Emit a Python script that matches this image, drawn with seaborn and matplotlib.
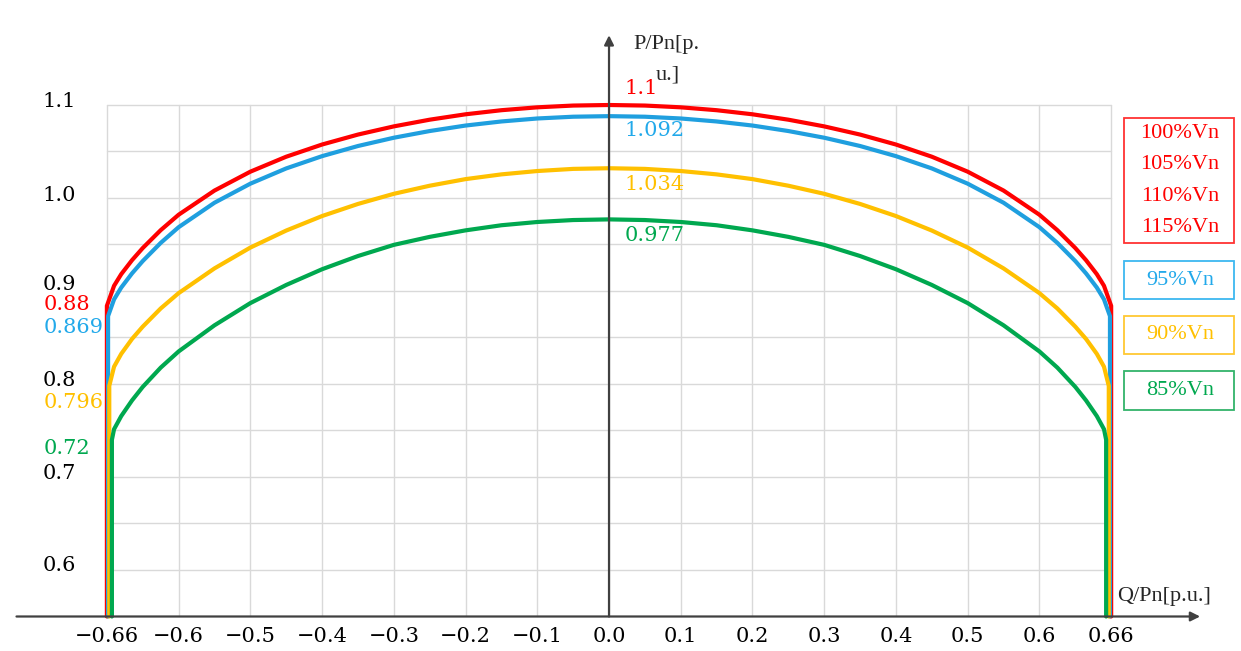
import numpy as np
import pandas as pd
import matplotlib.pyplot as plt
import seaborn as sns
from matplotlib.patches import Rectangle

# Q/Pn positions of the arc samples
q_arc = [-0.654, -0.648, -0.639, -0.63, -0.615, -0.6, -0.55, -0.5, -0.45, -0.4, -0.35, -0.3,
         -0.25, -0.2, -0.15, -0.1, -0.05, 0.0, 0.05, 0.1, 0.15, 0.2, 0.25, 0.3, 0.35, 0.4,
         0.45, 0.5, 0.55, 0.6, 0.615, 0.63, 0.639, 0.648, 0.654]

# P/Pn values of each capability curve at q_arc
p_red = [0.9056, 0.9181, 0.9331, 0.9462, 0.9654, 0.9820, 1.0080, 1.0283, 1.0444, 1.0575,
         1.0682, 1.0770, 1.0842, 1.0900, 1.0944, 1.0975, 1.0994, 1.1000, 1.0994, 1.0975,
         1.0944, 1.0900, 1.0842, 1.0770, 1.0682, 1.0575, 1.0444, 1.0283, 1.0080, 0.9820,
         0.9654, 0.9462, 0.9331, 0.9181, 0.9056]
p_blue = [0.8910, 0.9037, 0.9189, 0.9322, 0.9517, 0.9686, 0.9949, 1.0154, 1.0318, 1.0450,
          1.0559, 1.0648, 1.0720, 1.0779, 1.0823, 1.0855, 1.0874, 1.0880, 1.0874, 1.0855,
          1.0823, 1.0779, 1.0720, 1.0648, 1.0559, 1.0450, 1.0318, 1.0154, 0.9949, 0.9686,
          0.9517, 0.9322, 0.9189, 0.9037, 0.8910]
p_yellow = [0.8186, 0.8324, 0.8484, 0.8617, 0.8812, 0.8977, 0.9243, 0.9467, 0.9650, 0.9806,
            0.9936, 1.0045, 1.0132, 1.0203, 1.0254, 1.0290, 1.0313, 1.0320, 1.0313, 1.0290,
            1.0254, 1.0203, 1.0132, 1.0045, 0.9936, 0.9806, 0.9650, 0.9467, 0.9243, 0.8977,
            0.8812, 0.8617, 0.8484, 0.8324, 0.8186]
p_green = [0.7514, 0.7655, 0.7823, 0.7969, 0.8176, 0.8350, 0.8631, 0.8870, 0.9065, 0.9234,
           0.9376, 0.9496, 0.9582, 0.9652, 0.9707, 0.9742, 0.9763, 0.9770, 0.9763, 0.9742,
           0.9707, 0.9652, 0.9582, 0.9496, 0.9376, 0.9234, 0.9065, 0.8870, 0.8631, 0.8350,
           0.8176, 0.7969, 0.7823, 0.7655, 0.7514]

curve_names = ["100-115%Vn", "95%Vn", "90%Vn", "85%Vn"]
curve_arcs = [p_red, p_blue, p_yellow, p_green]
end_q = [0.66, 0.659, 0.658, 0.6558]       # Q limit (vertical edge)
end_p = [0.884, 0.873, 0.798, 0.740]       # P where the arc meets the edge
p_floor = 0.55

colors = ["#FF0000", "#1F9FDF", "#FFC000", "#00A84F"]
label_colors = ["#FF0000", "#22A9EA", "#FFC000", "#00A84F"]
box_colors = ["#FF3333", "#3DB8F0", "#FFC833", "#33B36A"]

x_ticks = [-0.66, -0.6, -0.5, -0.4, -0.3, -0.2, -0.1, 0.0, 0.1, 0.2, 0.3, 0.4, 0.5, 0.6, 0.66]
x_tick_labels = ["\u22120.66", "\u22120.6", "\u22120.5", "\u22120.4", "\u22120.3", "\u22120.2",
                 "\u22120.1", "0.0", "0.1", "0.2", "0.3", "0.4", "0.5", "0.6", "0.66"]
y_tick_labels = ["0.6", "0.7", "0.8", "0.9", "1.0", "1.1"]
y_grid = [0.6, 0.65, 0.7, 0.75, 0.8, 0.85, 0.9, 0.95, 1.0, 1.05, 1.1]

peak_labels = ["1.1", "1.092", "1.034", "0.977"]
edge_labels = ["0.88", "0.869", "0.796", "0.72"]
legend_groups = [["100%Vn", "105%Vn", "110%Vn", "115%Vn"], ["95%Vn"], ["90%Vn"], ["85%Vn"]]

rows = []
for name, arc, qe, pe in zip(curve_names, curve_arcs, end_q, end_p):
    qs = [-qe, -qe] + q_arc + [qe, qe]
    ps = [p_floor, pe] + arc + [pe, p_floor]
    for q, p in zip(qs, ps):
        rows.append({"curve": name, "Q": q, "P": p})
df = pd.DataFrame(rows)


# the original axis puts 0.6 -> 0.66 on a full 0.1-wide grid cell
def fwd(q):
    q = np.asarray(q, dtype=float)
    a = np.abs(q)
    return np.sign(q) * np.where(a <= 0.6, a, 0.6 + (a - 0.6) * 5.0 / 3.0)


def inv(g):
    g = np.asarray(g, dtype=float)
    a = np.abs(g)
    return np.sign(g) * np.where(a <= 0.6, a, 0.6 + (a - 0.6) * 0.6)


sns.set_theme(style="white")
plt.rcParams["font.family"] = ["DejaVu Serif", "DejaVu Sans"]

W, H = 1241, 651
fig = plt.figure(figsize=(W / 100, H / 100), dpi=100)
ax = fig.add_axes([0, 0, 1, 1])
ax.set_xscale("function", functions=(fwd, inv))
ax.set_xlim(float(inv(-0.849)), float(inv(0.881)))
ax.set_ylim(0.5129, 1.2129)
ax.axis("off")

# grid
for q in x_ticks:
    ax.plot([q, q], [p_floor, 1.1], color="#D9D9D9", lw=1.0, zorder=0)
for p in y_grid:
    ax.plot([x_ticks[0], x_ticks[-1]], [p, p], color="#D9D9D9", lw=1.0, zorder=0)

sns.lineplot(data=df, x="Q", y="P", hue="curve", palette=colors, sort=False,
             estimator=None, linewidth=3.0, legend=False, ax=ax, zorder=3,
             solid_joinstyle="round")

# axes with arrows
arrow = dict(arrowstyle="-|>", color="#404040", lw=1.6, mutation_scale=14, shrinkA=0, shrinkB=0)
ax.annotate("", xy=(0, 1.175), xytext=(0, p_floor), arrowprops=arrow, zorder=4)
ax.annotate("", xy=(float(inv(0.824)), p_floor), xytext=(float(inv(-0.826)), p_floor),
            arrowprops=arrow, zorder=4)

fs = 15
for q, lab in zip(x_ticks, x_tick_labels):
    ax.text(q, 0.528, lab, ha="center", va="center", fontsize=fs, color="black")
tick_y = [0.605, 0.704, 0.804, 0.907, 1.003, 1.104]
for p, lab in zip(tick_y, y_tick_labels):
    ax.text(-0.7136, p, lab, ha="left", va="center", fontsize=fs, color="black")

# value labels
peak_y = [1.118, 1.073, 1.015, 0.960]
edge_y = [0.885, 0.861, 0.780, 0.731]
for lab, y, c in zip(peak_labels, peak_y, label_colors):
    ax.text(0.022, y, lab, ha="left", va="center", fontsize=fs, color=c, zorder=5)
for lab, y, c in zip(edge_labels, edge_y, label_colors):
    ax.text(-0.7125, y, lab, ha="left", va="center", fontsize=fs, color=c, zorder=5)

# axis titles
serif = ["Liberation Serif", "DejaVu Serif"]
fig.text(633 / W, 1 - 45 / H, "P/Pn[p.", ha="left", va="center", fontsize=16, family=serif)
fig.text(656 / W, 1 - 75 / H, "u.]", ha="left", va="center", fontsize=16, family=serif)
fig.text(1117 / W, 1 - 597 / H, "Q/Pn[p.u.]", ha="left", va="center", fontsize=16, family=serif)

# legend boxes
box_top = [118, 261, 316, 371]
box_bot = [243, 299, 354, 410]
for grp, c_txt, c_box, t, b in zip(legend_groups, label_colors, box_colors, box_top, box_bot):
    fig.patches.append(Rectangle((1124 / W, 1 - b / H), 110 / W, (b - t) / H,
                                 transform=fig.transFigure, fill=False,
                                 edgecolor=c_box, lw=1.3))
    step = (b - t) / len(grp)
    for i, txt in enumerate(grp):
        yc = t + step * (i + 0.5)
        fig.text(1180 / W, 1 - yc / H, txt, ha="center", va="center", fontsize=16,
                 color=c_txt, family=serif)

fig.savefig("out.png", dpi=100)
